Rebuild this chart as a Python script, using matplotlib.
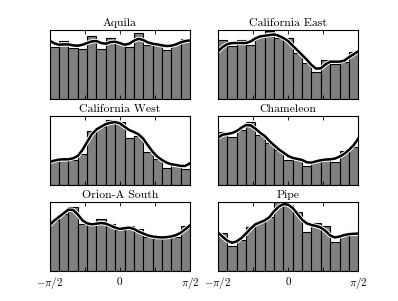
import numpy as np
import matplotlib
matplotlib.use('Agg')
from matplotlib import pyplot as plt
import matplotlib.patheffects as pe

plt.rcParams['font.family'] = 'serif'
plt.rcParams['font.serif'] = ['cmr10', 'DejaVu Serif']
plt.rcParams['mathtext.fontset'] = 'cm'
plt.rcParams['axes.formatter.use_mathtext'] = True

# region names, in panel order
regions = ['Aquila', 'California East', 'California West',
           'Chameleon', 'Orion-A South', 'Pipe']

# histogram heights (15 bins from -pi/2 to pi/2), normalised to the panel height
hist_aquila = [0.76, 0.84, 0.74, 0.72, 0.91, 0.72, 0.88, 0.81, 0.75, 0.96, 0.78, 0.81, 0.71, 0.80, 0.87]
hist_cal_east = [0.855, 0.763, 0.855, 0.778, 0.903, 0.981, 0.884, 0.879, 0.667, 0.522, 0.396, 0.560, 0.512, 0.531, 0.676]
hist_cal_west = [0.372, 0.363, 0.363, 0.445, 0.783, 0.846, 0.942, 0.913, 0.686, 0.711, 0.484, 0.382, 0.252, 0.286, 0.237]
hist_chamaeleon = [0.773, 0.696, 0.793, 0.913, 0.720, 0.614, 0.503, 0.363, 0.387, 0.276, 0.348, 0.372, 0.339, 0.493, 0.556]
hist_orion = [0.734, 0.834, 0.924, 0.677, 0.662, 0.748, 0.686, 0.600, 0.653, 0.605, 0.496, 0.477, 0.496, 0.486, 0.653]
hist_pipe = [0.548, 0.367, 0.453, 0.639, 0.710, 0.786, 1.0, 0.953, 0.858, 0.572, 0.700, 0.653, 0.415, 0.510, 0.572]

# smooth curve, read at 31 evenly spaced angles from -pi/2 to pi/2
curve_aquila = [0.845, 0.807, 0.787, 0.792, 0.792, 0.778, 0.773, 0.787, 0.812, 0.836, 0.841,
                0.812, 0.802, 0.826, 0.831, 0.812, 0.787, 0.802, 0.845, 0.874, 0.855, 0.821,
                0.802, 0.792, 0.778, 0.768, 0.773, 0.792, 0.821, 0.841, 0.850]
curve_cal_east = [0.691, 0.754, 0.797, 0.812, 0.812, 0.812, 0.812, 0.836, 0.879, 0.908, 0.918,
                  0.928, 0.937, 0.918, 0.884, 0.841, 0.773, 0.705, 0.638, 0.570, 0.493, 0.440,
                  0.444, 0.502, 0.541, 0.541, 0.541, 0.556, 0.604, 0.647, 0.691]
curve_cal_west = [0.334, 0.353, 0.368, 0.372, 0.372, 0.387, 0.421, 0.508, 0.624, 0.735, 0.807,
                  0.846, 0.884, 0.904, 0.913, 0.894, 0.846, 0.798, 0.769, 0.735, 0.672, 0.575,
                  0.484, 0.411, 0.363, 0.324, 0.300, 0.290, 0.276, 0.276, 0.314]
curve_chamaeleon = [0.686, 0.730, 0.740, 0.754, 0.783, 0.831, 0.870, 0.865, 0.817, 0.759, 0.711,
                    0.638, 0.575, 0.517, 0.469, 0.421, 0.392, 0.377, 0.363, 0.329, 0.324, 0.343,
                    0.358, 0.368, 0.372, 0.382, 0.411, 0.450, 0.508, 0.575, 0.672]
curve_orion = [0.667, 0.734, 0.786, 0.839, 0.891, 0.886, 0.820, 0.734, 0.691, 0.677, 0.686,
               0.696, 0.686, 0.658, 0.629, 0.610, 0.620, 0.629, 0.610, 0.572, 0.543, 0.515,
               0.500, 0.491, 0.486, 0.491, 0.500, 0.520, 0.553, 0.605, 0.662]
curve_pipe = [0.558, 0.496, 0.439, 0.410, 0.429, 0.477, 0.543, 0.615, 0.677, 0.705, 0.734,
              0.781, 0.867, 0.934, 0.972, 0.962, 0.915, 0.829, 0.743, 0.691, 0.667, 0.653,
              0.629, 0.581, 0.515, 0.486, 0.500, 0.520, 0.534, 0.539, 0.543]

hists = [hist_aquila, hist_cal_east, hist_cal_west, hist_chamaeleon, hist_orion, hist_pipe]
curves = [curve_aquila, curve_cal_east, curve_cal_west, curve_chamaeleon, curve_orion, curve_pipe]

edges = np.linspace(-np.pi / 2, np.pi / 2, 16)
centers = 0.5 * (edges[:-1] + edges[1:])
width = edges[1] - edges[0]
theta = np.linspace(-np.pi / 2, np.pi / 2, 31)

fig, axes = plt.subplots(3, 2, figsize=(3.98, 3.01), dpi=100, sharex=True)
fig.subplots_adjust(left=0.125, right=0.9, bottom=0.1, top=0.9, wspace=0.2, hspace=0.25)

for ax, name, h, c in zip(axes.flat, regions, hists, curves):
    ax.bar(centers, h, width=width, color='#808080', edgecolor='black', linewidth=0.8)
    ax.plot(theta, c, color='black', lw=1.8,
            path_effects=[pe.withStroke(linewidth=3.2, foreground='white')])
    ax.set_xlim(-np.pi / 2, np.pi / 2)
    ax.set_ylim(0, 1)
    ax.set_yticks([])
    ax.set_title(name, fontsize=8.5, pad=3)
    ax.set_xticks(np.arange(-2, 3) * np.pi / 4)
    ax.set_xticklabels([r'$-\pi/2$', '', r'$0$', '', r'$\pi/2$'], fontsize=8)
    ax.tick_params(axis='x', direction='in', top=True, length=3, width=0.6, pad=3)
    for s in ax.spines.values():
        s.set_linewidth(0.8)

plt.savefig('out.png', dpi=100)
